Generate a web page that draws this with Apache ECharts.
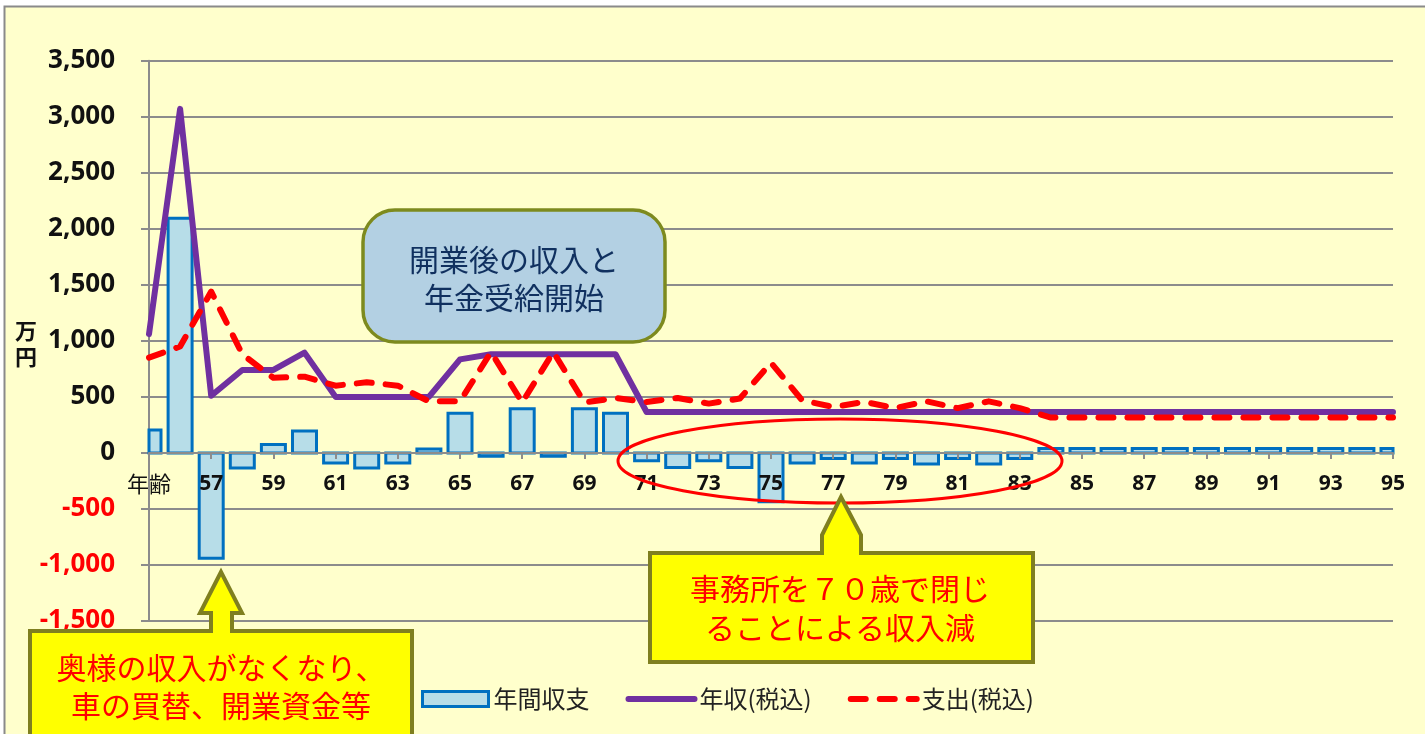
<!DOCTYPE html>
<html>
<head>
<meta charset="utf-8">
<script src="https://cdn.jsdelivr.net/npm/echarts@6/dist/echarts.min.js"></script>
<style>
html,body{margin:0;padding:0;background:#fff;}
#c{width:1425px;height:734px;}
</style>
</head>
<body>
<div id="c"></div>
<script>
// ---- data ----
const ages = ['55','56','57','58','59','60','61','62','63','64','65','66','67','68','69','70','71','72','73','74','75','76','77','78','79','80','81','82','83','84','85','86','87','88','89','90','91','92','93','94','95'];
const firstAgeLabel = '年齢';
const balance = [205,2095,-940,-135,75,195,-90,-135,-90,35,355,-30,395,-30,395,355,-70,-130,-70,-130,-435,-90,-50,-90,-50,-100,-50,-100,-50,40,40,40,40,40,40,40,40,40,40,40,40];
const income = [1060,3070,510,740,740,895,500,500,500,500,835,880,880,880,880,880,365,365,365,365,365,365,365,365,365,365,365,365,365,365,365,365,365,365,365,365,365,365,365,365,365];
const expense = [850,950,1440,880,670,680,600,630,600,460,460,900,450,900,450,490,455,490,440,485,805,470,410,455,400,460,400,460,400,315,315,315,315,315,315,315,315,315,315,315,315];
const seriesNames = ['年間収支','年収(税込)','支出(税込)'];
const yUnit = '万\n円';
const boxText = ['開業後の収入と','年金受給開始'];
const callout1Text = ['奥様の収入がなくなり、','車の買替、開業資金等'];
const callout2Text = ['事務所を７０歳で閉じ','ることによる収入減'];

const chart = echarts.init(document.getElementById('c'), null, {renderer:'canvas'});
const cjk = '"Noto Sans CJK JP", "Noto Sans", sans-serif';
const num = '"Open Sans", "Liberation Sans", sans-serif';
function fmt(v){ return Math.abs(v).toString().replace(/\B(?=(\d{3})+(?!\d))/g, ','); }

function txt(t, x, y, color, size, z){
  return {type:'text', z:z||200, style:{text:t, x:x, y:y, fill:color, font: 'normal ' + size + 'px ' + cjk, align:'center', verticalAlign:'middle'}};
}

const barFill = '#b7dde8', barStroke = '#0070c0';
const incomeColor = '#7030a0', expenseColor = '#ff0000';

function renderBar(params, api){
  const idx = api.value(0);
  const base = api.coord([idx, 0]);
  const top = api.coord([idx, api.value(1)]);
  const w = 24;
  const rect = {x: base[0] - w/2, y: Math.min(base[1], top[1]), width: w, height: Math.abs(top[1] - base[1])};
  const cs = params.coordSys;
  const clipped = echarts.graphic.clipRectByRect(rect, {x: cs.x, y: cs.y, width: cs.width, height: cs.height});
  if (!clipped) return null;
  return {type:'rect', shape:clipped, style:{fill:barFill, stroke:barStroke, lineWidth:3}};
}

const option = {
  backgroundColor:'#ffffff',
  animation:false,
  grid:{left:149, right:32, top:60.7, bottom:113, containLabel:false},
  legend:{
    data:[
      {name:seriesNames[0], icon:'rect', itemStyle:{color:barFill, borderColor:barStroke, borderWidth:3}},
      {name:seriesNames[1], itemStyle:{opacity:0}, lineStyle:{color:incomeColor, width:6, cap:'round'}},
      {name:seriesNames[2], itemStyle:{opacity:0}, lineStyle:{color:expenseColor, width:6, type:[15,14], cap:'round'}}
    ],
    left:421, top:687, padding:0, itemWidth:66, itemHeight:15, itemGap:36,
    textStyle:{fontFamily:cjk, fontSize:24, color:'#222'}
  },
  xAxis:{
    type:'category', data:ages, boundaryGap:false, position:'bottom', z:10,
    axisLine:{onZero:false, lineStyle:{color:'#8c8c8c', width:2}},
    axisTick:{show:true, interval:1, length:6, lineStyle:{color:'#8c8c8c', width:2}},
    axisLabel:{
      interval:1, margin:20, fontFamily:num, fontWeight:'bold', fontSize:21, color:'#111', lineHeight:22,
      formatter:function(v, i){ return i===0 ? '{a|'+firstAgeLabel+'}' : v; },
      rich:{a:{fontFamily:cjk, fontWeight:'normal', fontSize:22, color:'#111', lineHeight:22}}
    },
    splitLine:{show:false}
  },
  yAxis:{
    type:'value', min:-1500, max:3500, interval:500,
    axisLine:{show:true, lineStyle:{color:'#8c8c8c', width:2}},
    axisTick:{show:true, length:8, lineStyle:{color:'#8c8c8c', width:2}},
    splitLine:{show:true, lineStyle:{color:'#8c8c8c', width:2}},
    axisLabel:{
      margin:34, fontFamily:num, fontWeight:'bold', fontSize:26, color:'#111',
      formatter:function(v){ return v<0 ? '{n|-'+fmt(v)+'}' : '{p|'+fmt(v)+'}'; },
      rich:{
        n:{color:'#ff0000', fontFamily:num, fontWeight:'bold', fontSize:26},
        p:{color:'#111', fontFamily:num, fontWeight:'bold', fontSize:26}
      }
    }
  },
  series:[
    {name:seriesNames[0], type:'custom', renderItem:renderBar, z:2,
      data:balance.map(function(v,i){return [i,v];}), encode:{x:0, y:1},
      itemStyle:{color:barFill, borderColor:barStroke, borderWidth:3}},
    {name:seriesNames[1], type:'line', data:income, symbol:'none', z:3,
      itemStyle:{color:incomeColor},
      lineStyle:{color:incomeColor, width:6, join:'round', cap:'round'}},
    {name:seriesNames[2], type:'line', data:expense, symbol:'none', z:4,
      itemStyle:{color:expenseColor},
      lineStyle:{color:expenseColor, width:6, type:[15,14], cap:'round', join:'round'}}
  ],
  graphic:[
    {type:'rect', z:-100, silent:true, shape:{x:4.5, y:6.5, width:1440, height:760},
      style:{fill:'#ffffcc', stroke:'#8a8a8a', lineWidth:2}},
    {type:'text', z:200, style:{text:yUnit, x:26, y:344, fill:'#111', font:'bold 22px ' + cjk, align:'center', verticalAlign:'middle', lineHeight:26}},
    {type:'rect', z:150, shape:{x:363, y:210, width:302, height:132, r:32},
      style:{fill:'#b3d0e3', stroke:'#7d8a1e', lineWidth:3.5}},
    txt(boxText[0], 514, 260, '#10305f', 30, 160),
    txt(boxText[1], 514, 298, '#10305f', 30, 160),
    {type:'ellipse', z:150, shape:{cx:840, cy:461, rx:222, ry:42},
      style:{fill:null, stroke:'#ff0000', lineWidth:3}},
    {type:'polygon', z:170, shape:{points:[[30,631],[211,631],[211,613],[200,613],[221,572],[242,613],[232,613],[232,631],[412,631],[412,760],[30,760]]},
      style:{fill:'#ffff00', stroke:'#7f7f1f', lineWidth:4}},
    txt(callout1Text[0], 221, 668, '#ff0000', 30, 180),
    txt(callout1Text[1], 221, 706, '#ff0000', 30, 180),
    {type:'polygon', z:170, shape:{points:[[650,553],[822,553],[822,535],[841,497],[861,535],[861,553],[1033,553],[1033,662],[650,662]]},
      style:{fill:'#ffff00', stroke:'#7f7f1f', lineWidth:4}},
    txt(callout2Text[0], 840, 589, '#ff0000', 30, 180),
    txt(callout2Text[1], 840, 628, '#ff0000', 30, 180)
  ]
};
chart.setOption(option);
// place the category axis on the zero line of the value axis
const zeroY = chart.convertToPixel({yAxisIndex:0}, 0);
const bottomY = chart.convertToPixel({yAxisIndex:0}, -1500);
chart.setOption({xAxis:{offset: -(bottomY - zeroY)}});
</script>
</body>
</html>
